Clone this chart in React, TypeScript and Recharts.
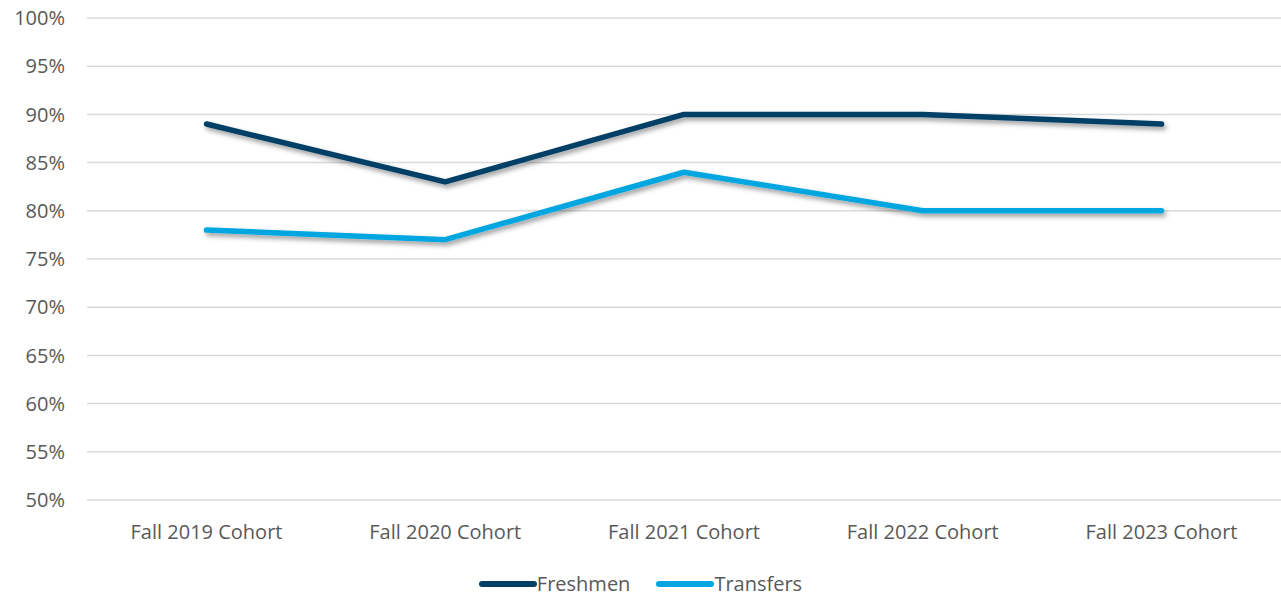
import { LineChart, Line, XAxis, YAxis, CartesianGrid } from 'recharts'

const cohorts = ['Fall 2019 Cohort', 'Fall 2020 Cohort', 'Fall 2021 Cohort', 'Fall 2022 Cohort', 'Fall 2023 Cohort']
const freshmen = [89, 83, 90, 90, 89]
const transfers = [78, 77, 84, 80, 80]
const yTicks = [50, 55, 60, 65, 70, 75, 80, 85, 90, 95, 100]

const data = cohorts.map((c, i) => ({ cohort: c, freshmen: freshmen[i], transfers: transfers[i] }))

const FONT = '"Open Sans", Lato, sans-serif'
const TEXT = '#595959'

const series = [
  { key: 'freshmen', name: 'Freshmen', color: '#003f66' },
  { key: 'transfers', name: 'Transfers', color: '#00a6df' },
]

export default function App() {
  return (
    <div style={{ position: 'relative', width: 1281, height: 597, background: '#fff', fontFamily: FONT, overflow: 'hidden' }}>
      <style>{'html, body { margin: 0; padding: 0; overflow: hidden; }'}</style>
      <svg width={0} height={0} style={{ position: 'absolute' }}>
        <defs>
          <filter id="lineShadow" x="-10%" y="-50%" width="120%" height="200%">
            <feDropShadow dx={2} dy={3} stdDeviation={2.5} floodColor="#000" floodOpacity={0.4} />
          </filter>
        </defs>
      </svg>
      <LineChart width={1281} height={597} data={data} margin={{ top: 18, right: 0, left: 0, bottom: 57 }}>
        <CartesianGrid vertical={false} stroke="#d9d9d9" strokeWidth={1.5} />
        <XAxis
          dataKey="cohort"
          axisLine={false}
          tickLine={false}
          tickSize={0}
          tickMargin={25}
          height={40}
          padding={{ left: 119.5, right: 119.5 }}
          tick={{ fill: TEXT, fontSize: 20, fontFamily: FONT }}
          interval={0}
        />
        <YAxis
          domain={[50, 100]}
          ticks={yTicks}
          width={87}
          axisLine={false}
          tickLine={false}
          tickSize={0}
          tickMargin={22}
          tickFormatter={(v) => `${v}%`}
          tick={{ fill: TEXT, fontSize: 20, fontFamily: FONT }}
        />
        {series.map(s => (
          <Line
            key={s.key}
            dataKey={s.key}
            name={s.name}
            stroke={s.color}
            strokeWidth={5.5}
            strokeLinecap="round"
            strokeLinejoin="round"
            type="linear"
            dot={false}
            activeDot={false}
            filter="url(#lineShadow)"
            isAnimationActive={false}
          />
        ))}
      </LineChart>
      <div style={{ position: 'absolute', top: 573, left: 0, width: 1281, display: 'flex', justifyContent: 'center', gap: 26, lineHeight: '22px' }}>
        {series.map(s => (
          <div key={s.key} style={{ display: 'flex', alignItems: 'center', fontSize: 20, color: TEXT }}>
            <span style={{ width: 58, height: 6, borderRadius: 3, background: s.color, display: 'inline-block' }} />
            <span>{s.name}</span>
          </div>
        ))}
      </div>
    </div>
  )
}
